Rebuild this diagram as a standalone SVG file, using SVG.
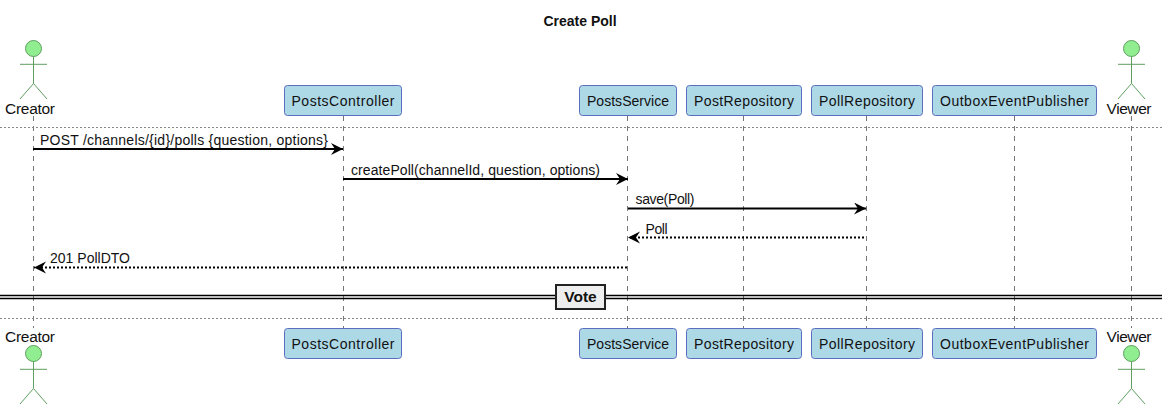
<svg xmlns="http://www.w3.org/2000/svg" width="1168" height="409" viewBox="0 0 1168 409">
<style>
text{font-family:"Liberation Sans",Arial,sans-serif;font-size:14px;fill:#111}
.title{font-size:14px;font-weight:bold;text-anchor:middle}
.p{text-anchor:middle}
.ac{font-size:15.500px;text-anchor:middle}
.box{fill:#ADD8E6;stroke:#5B6DBE;stroke-width:1}
.life{stroke:#777;stroke-width:1;stroke-dasharray:5 5;fill:none}
.sep{stroke:#888;stroke-width:1;stroke-dasharray:2 2;fill:none}
.a{fill:none;stroke:#5F9E60;stroke-width:1}
.h{fill:#90EE90;stroke:#5F9E60;stroke-width:1}
.m{stroke:#000;stroke-width:2;fill:none}
.r{stroke-dasharray:2 2}
.db{stroke:#000;stroke-width:1.500;fill:none}
</style>
<defs>
<marker id="ah" markerUnits="userSpaceOnUse" markerWidth="14" markerHeight="14" refX="12" refY="6" orient="auto"><path d="M0 0L12 6L0 12L4 6Z" fill="#000"/></marker>
<g id="actor"><circle class="h" cx="0" cy="0" r="8"/><path class="a" d="M0 8V35M-13.500 15.800H13.500M0 35L-13.500 50.500M0 35L13.500 50.500"/></g>
</defs>
<text class="title" x="580" y="25.500">Create Poll</text>
<g id="lifelines">
<path class="life" d="M33.500 116V328M343.500 116V328M627.500 116V328M743.500 116V328M866.500 116V328M1014.500 116V328M1131.500 116V328"/>
</g>
<g id="separators">
<path class="sep" d="M0 127.500H1162M0 318.500H1162"/>
</g>
<g id="connectors">
<path class="m" d="M33 149H343" marker-end="url(#ah)"/>
<text x="40" y="145" textLength="288" lengthAdjust="spacing">POST /channels/{id}/polls {question, options}</text>
<path class="m" d="M343 179H628" marker-end="url(#ah)"/>
<text x="351" y="175" textLength="249" lengthAdjust="spacing">createPoll(channelId, question, options)</text>
<path class="m" d="M628 208.500H866" marker-end="url(#ah)"/>
<text x="635.500" y="204" textLength="59" lengthAdjust="spacing">save(Poll)</text>
<path class="m r" d="M864 237.500H628" marker-end="url(#ah)"/>
<text x="645.500" y="233.500" textLength="22" lengthAdjust="spacing">Poll</text>
<path class="m r" d="M627 267.500H34" marker-end="url(#ah)"/>
<text x="50" y="263" textLength="80" lengthAdjust="spacing">201 PollDTO</text>
</g>
<g id="divider-vote">
<path class="db" d="M0 295.500H1162M0 298.500H1162"/>
<rect x="556" y="285" width="49" height="24" fill="#EEE" stroke="#222" stroke-width="2"/>
<text x="580.500" y="302" class="p" style="font-weight:bold;font-size:15.500px">Vote</text>
</g>
<g id="creator">
<use href="#actor" x="33.500" y="48.500"/><text class="ac" x="30" y="114" textLength="50">Creator</text>
<text class="ac" x="30" y="342" textLength="50">Creator</text><use href="#actor" x="33.500" y="353.500"/>
</g>
<g id="postscontroller">
<rect class="box" x="284.500" y="85.500" width="117" height="30" rx="3"/><text class="p" x="343" y="106" textLength="103" lengthAdjust="spacing">PostsController</text>
<rect class="box" x="284.500" y="328.500" width="117" height="30" rx="3"/><text class="p" x="343" y="349" textLength="103" lengthAdjust="spacing">PostsController</text>
</g>
<g id="postsservice">
<rect class="box" x="579.500" y="85.500" width="97" height="30" rx="3"/><text class="p" x="628" y="106" textLength="82" lengthAdjust="spacing">PostsService</text>
<rect class="box" x="579.500" y="328.500" width="97" height="30" rx="3"/><text class="p" x="628" y="349" textLength="82" lengthAdjust="spacing">PostsService</text>
</g>
<g id="postrepository">
<rect class="box" x="686.500" y="85.500" width="115" height="30" rx="3"/><text class="p" x="744" y="106" textLength="100" lengthAdjust="spacing">PostRepository</text>
<rect class="box" x="686.500" y="328.500" width="115" height="30" rx="3"/><text class="p" x="744" y="349" textLength="100" lengthAdjust="spacing">PostRepository</text>
</g>
<g id="pollrepository">
<rect class="box" x="811.500" y="85.500" width="111" height="30" rx="3"/><text class="p" x="867" y="106" textLength="96" lengthAdjust="spacing">PollRepository</text>
<rect class="box" x="811.500" y="328.500" width="111" height="30" rx="3"/><text class="p" x="867" y="349" textLength="96" lengthAdjust="spacing">PollRepository</text>
</g>
<g id="outboxeventpublisher">
<rect class="box" x="932.500" y="85.500" width="164" height="30" rx="3"/><text class="p" x="1014.500" y="106" textLength="149" lengthAdjust="spacing">OutboxEventPublisher</text>
<rect class="box" x="932.500" y="328.500" width="164" height="30" rx="3"/><text class="p" x="1014.500" y="349" textLength="149" lengthAdjust="spacing">OutboxEventPublisher</text>
</g>
<g id="viewer">
<use href="#actor" x="1131.500" y="48.500"/><text class="ac" x="1129" y="114" textLength="45">Viewer</text>
<text class="ac" x="1129" y="342" textLength="45">Viewer</text><use href="#actor" x="1131.500" y="353.500"/>
</g>
</svg>
